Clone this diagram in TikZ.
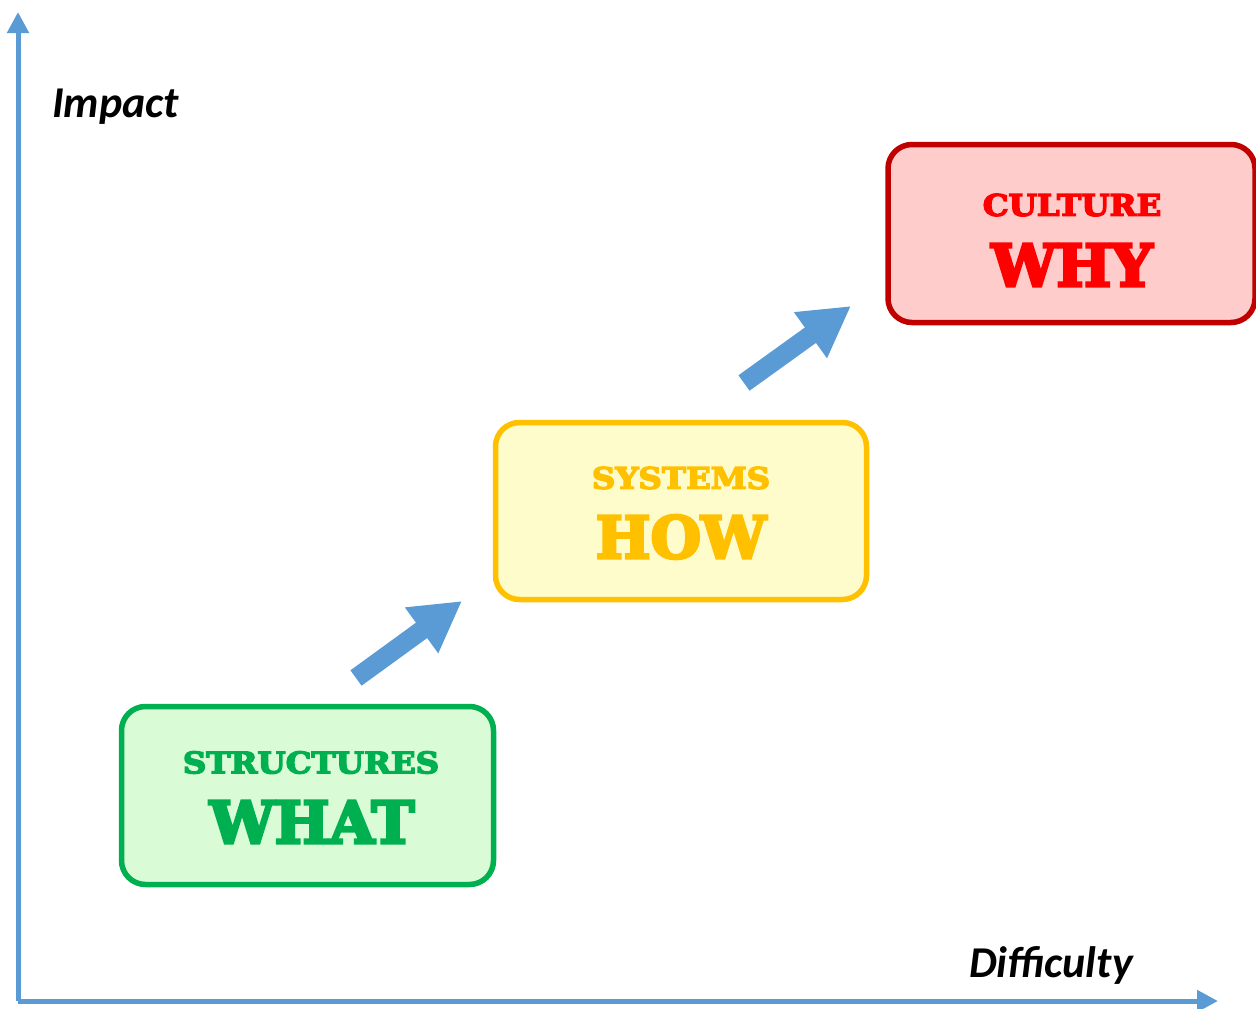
\documentclass[tikz,border=0pt]{standalone}
\usepackage{fontspec}
\setmainfont{Carlito}
\newfontfamily\heavy[BoldFeatures={FakeBold=5}]{DejaVu Serif}
\newfontfamily\heavywide[BoldFeatures={FakeBold=5,FakeStretch=1.1}]{DejaVu Serif}
\usetikzlibrary{arrows.meta}
\definecolor{axisblue}{HTML}{5B9BD5}
\definecolor{gstroke}{HTML}{00B050}
\definecolor{gfill}{HTML}{D9FBD6}
\definecolor{ystroke}{HTML}{FFC000}
\definecolor{yfill}{HTML}{FFFCCC}
\definecolor{rstroke}{HTML}{C00000}
\definecolor{rfill}{HTML}{FFCCCC}
\definecolor{rtext}{HTML}{FF0000}
\begin{document}
\begin{tikzpicture}[x=1pt,y=-1pt,
  box/.style={draw, line width=5.5pt, rounded corners=24pt, inner sep=0pt},
  smalltxt/.style={inner sep=0pt, font=\heavywide\bfseries\fontsize{29.5}{30}\selectfont},
  bigtxt/.style={inner sep=0pt, font=\heavy\bfseries\fontsize{58}{60}\selectfont},
  axislabel/.style={inner sep=0pt, anchor=base west, font=\bfseries\itshape\fontsize{44}{48}\selectfont},
  axis/.style={draw=axisblue, line width=5pt, -{Triangle[width=21pt,length=21pt]}},
  bigarrow/.style={draw=axisblue, line width=19pt, -{Triangle[width=53pt,length=50pt]}}
]
\useasboundingbox (0,0) rectangle (1256,1009);
% axes
\coordinate (O) at (18,1001);
\coordinate (Ytip) at (18,12);
\coordinate (Xtip) at (1218,1001);
\draw[axis] (O) -- (Ytip);
\draw[axis] (O) -- (Xtip);
\node[axislabel] (impact) at (52,117) {Impact};
\node[axislabel] (difficulty) at (969,977) {Difficulty};
% boxes
\node[box, draw=gstroke, fill=gfill, minimum width=372pt, minimum height=178pt] (g) at (307.5,795.5) {};
\node[box, draw=ystroke, fill=yfill, minimum width=371pt, minimum height=177pt] (y) at (681,511) {};
\node[box, draw=rstroke, fill=rfill, minimum width=367pt, minimum height=178pt] (r) at (1071.5,233.5) {};
% texts
\node[smalltxt, text=gstroke] (gs) at (311,762.5) {STRUCTURES};
\node[bigtxt, text=gstroke] (gb) at (312,822) {WHAT};
\node[smalltxt, text=ystroke] (ys) at (681,478) {SYSTEMS};
\node[bigtxt, text=ystroke] (yb) at (681,537) {HOW};
\node[smalltxt, text=rtext] (rs) at (1072,205) {CULTURE};
\node[bigtxt, text=rtext] (rb) at (1072,265) {WHY};
% step arrows
\coordinate (a1s) at (356,678);
\coordinate (a1e) at (462,601);
\coordinate (a2s) at (744,383);
\coordinate (a2e) at (851,306);
\draw[bigarrow] (a1s) -- (a1e);
\draw[bigarrow] (a2s) -- (a2e);
\end{tikzpicture}
\end{document}
